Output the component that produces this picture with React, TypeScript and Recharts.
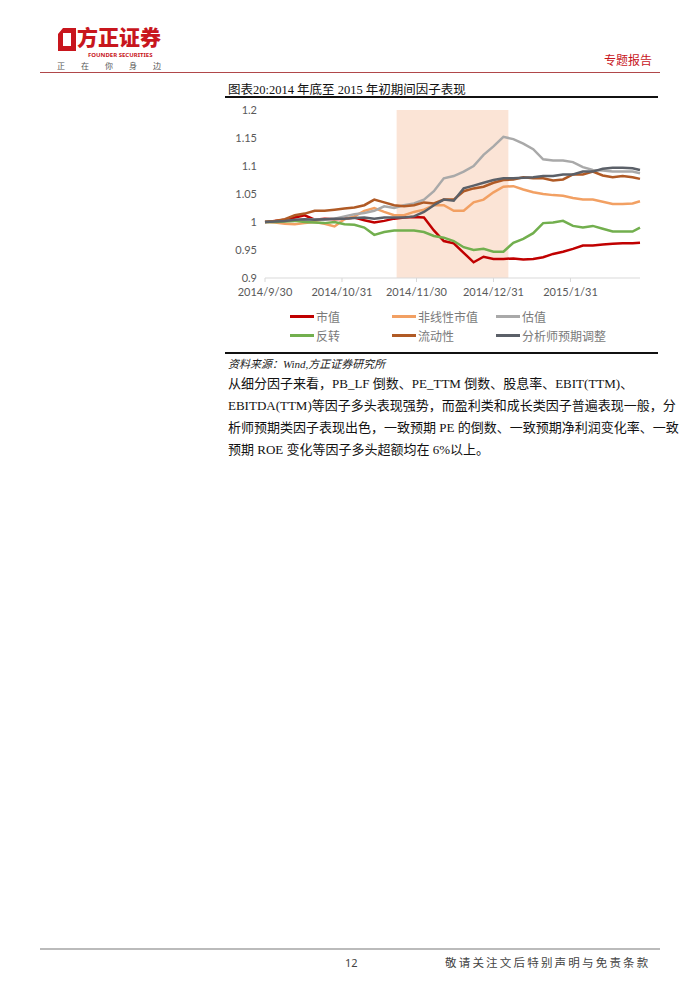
import React from "react";
import { LineChart, Line, XAxis, YAxis, ReferenceArea } from "recharts";

// Day offsets since 2014/9/30
const days = [0, 4, 8, 12, 16, 20, 24, 28, 32, 36, 40, 44, 48, 52, 56, 60, 64, 68, 72, 76, 80, 84, 88, 92, 96, 100, 104, 108, 112, 116, 120, 124, 128, 132, 136, 140, 144, 148, 151];

const marketCap = [1.0, 1.002, 1.004, 1.008, 1.012, 1.004, 1.006, 1.005, 1.006, 1.008, 1.003, 0.999, 1.002, 1.006, 1.008, 1.009, 1.008, 0.985, 0.966, 0.962, 0.945, 0.928, 0.938, 0.934, 0.934, 0.935, 0.933, 0.934, 0.937, 0.943, 0.947, 0.952, 0.958, 0.958, 0.96, 0.961, 0.962, 0.962, 0.963];
const nonlinearCap = [1.0, 0.999, 0.997, 0.996, 0.998, 1.0, 0.997, 0.992, 1.005, 1.01, 1.02, 1.025, 1.018, 1.012, 1.012, 1.018, 1.022, 1.03, 1.03, 1.02, 1.02, 1.035, 1.04, 1.053, 1.063, 1.064, 1.058, 1.053, 1.05, 1.048, 1.047, 1.043, 1.04, 1.04, 1.036, 1.032, 1.032, 1.033, 1.037];
const valuation = [1.0, 1.001, 1.002, 1.003, 1.004, 1.005, 1.004, 1.006, 1.01, 1.014, 1.016, 1.02, 1.028, 1.025, 1.03, 1.033, 1.04, 1.055, 1.078, 1.082, 1.09, 1.1, 1.12, 1.135, 1.152, 1.148, 1.14, 1.13, 1.112, 1.11, 1.11, 1.107, 1.098, 1.093, 1.092, 1.09, 1.09, 1.09, 1.087];
const reversal = [1.0, 1.0, 1.001, 1.002, 1.0, 0.999, 0.998, 1.0, 0.996, 0.995, 0.99, 0.977, 0.982, 0.985, 0.985, 0.985, 0.982, 0.975, 0.972, 0.966, 0.955, 0.95, 0.952, 0.947, 0.947, 0.963, 0.97, 0.98, 0.998, 0.999, 1.002, 0.993, 0.99, 0.993, 0.988, 0.983, 0.983, 0.983, 0.99];
const liquidity = [1.0, 1.002, 1.005, 1.012, 1.015, 1.02, 1.02, 1.022, 1.024, 1.026, 1.03, 1.04, 1.035, 1.03, 1.028, 1.03, 1.035, 1.033, 1.04, 1.04, 1.055, 1.06, 1.063, 1.07, 1.075, 1.076, 1.08, 1.078, 1.078, 1.074, 1.076, 1.085, 1.085, 1.09, 1.083, 1.08, 1.082, 1.08, 1.077];
const analyst = [1.0, 1.001, 1.002, 1.004, 1.005, 1.004, 1.005, 1.006, 1.006, 1.007, 1.008, 1.006, 1.008, 1.008, 1.008, 1.01, 1.018, 1.03, 1.04, 1.038, 1.06, 1.065, 1.07, 1.075, 1.078, 1.078, 1.079, 1.08, 1.082, 1.082, 1.085, 1.085, 1.09, 1.09, 1.095, 1.097, 1.097, 1.096, 1.093];

const seriesNames = ["市值", "非线性市值", "估值", "反转", "流动性", "分析师预期调整"];
const seriesColors = ["#C00000", "#F2A063", "#A9A9A9", "#72AF4E", "#B05A25", "#5B6068"];
const seriesValues = [marketCap, nonlinearCap, valuation, reversal, liquidity, analyst];

const xTicks = [0, 31, 61, 92, 123];
const xTickLabels = ["2014/9/30", "2014/10/31", "2014/11/30", "2014/12/31", "2015/1/31"];
const yTicks = [0.9, 0.95, 1, 1.05, 1.1, 1.15, 1.2];
const shadeStart = 53;
const shadeEnd = 98;

const data = days.map((d, i) => {
  const row: Record<string, number> = { d };
  seriesValues.forEach((arr, k) => {
    row["s" + k] = arr[i];
  });
  return row;
});

const RED = "#C8161D";

function Logo() {
  return (
    <div style={{ position: "absolute", left: 55, top: 26, width: 120, height: 48 }}>
      <svg width={20} height={24} style={{ position: "absolute", left: 2, top: 2 }}>
        <path d="M6 0 L19 0 L19 23 L1 23 L1 6 Z M6 5 L6 18 L14 18 L14 5 Z" fill={RED} fillRule="evenodd" />
      </svg>
      <div style={{ position: "absolute", left: 22, top: -1, fontFamily: "'Noto Sans CJK SC'", fontWeight: 900, fontSize: 21, color: RED, lineHeight: "22px", whiteSpace: "nowrap" }}>
        方正证券
      </div>
      <div style={{ position: "absolute", left: 33, top: 26, fontFamily: "'Noto Sans', sans-serif", fontWeight: 700, fontSize: 6, color: RED, whiteSpace: "nowrap", lineHeight: "7px" }}>
        FOUNDER SECURITIES
      </div>
      <div style={{ position: "absolute", left: 2, top: 35, fontFamily: "'Noto Sans CJK SC'", fontSize: 8, color: "#555", letterSpacing: 16, whiteSpace: "nowrap", lineHeight: "10px" }}>
        正在你身边
      </div>
    </div>
  );
}

function LegendBox() {
  const cols = [290, 392, 496];
  const rows = [316, 335];
  return (
    <>
      {seriesNames.map((name, i) => {
        const col = i % 3;
        const row = Math.floor(i / 3);
        return (
          <div key={name} style={{ position: "absolute", left: cols[col], top: rows[row] - 8, height: 16, display: "flex", alignItems: "center", whiteSpace: "nowrap" }}>
            <div style={{ width: 24, height: 3, background: seriesColors[i] }} />
            <span style={{ marginLeft: 2, fontFamily: "'Noto Sans CJK SC'", fontSize: 12, color: "#7a7a7a" }}>{name}</span>
          </div>
        );
      })}
    </>
  );
}

const bodyFont = "'Liberation Serif', 'Noto Sans CJK SC', serif";

export default function App() {
  return (
    <div style={{ position: "absolute", left: 0, top: 0, width: 700, height: 990, background: "#fff", overflow: "hidden" }}>
      <Logo />
      <div style={{ position: "absolute", left: 604, top: 51, fontFamily: "'Noto Sans CJK SC'", fontSize: 12, color: RED, whiteSpace: "nowrap" }}>专题报告</div>
      <div style={{ position: "absolute", left: 40, top: 72, width: 620, height: 1, background: "#b0474a" }} />

      <div style={{ position: "absolute", left: 228, top: 79, fontFamily: bodyFont, fontSize: 12.5, color: "#111", whiteSpace: "nowrap" }}>
        图表20:2014 年底至 2015 年初期间因子表现
      </div>
      <div style={{ position: "absolute", left: 225, top: 96, width: 433, height: 2, background: "#111" }} />

      <div style={{ position: "absolute", left: 225, top: 100 }}>
        <LineChart width={440} height={202} data={data} margin={{ top: 10, right: 25, bottom: 2, left: 0 }}>
          <ReferenceArea x1={shadeStart} x2={shadeEnd} y1={0.9} y2={1.2} fill="#FBE4D6" fillOpacity={1} stroke="none" ifOverflow="extendDomain" />
          <XAxis
            dataKey="d"
            type="number"
            domain={[0, 151]}
            ticks={xTicks}
            tickFormatter={(v: number) => xTickLabels[xTicks.indexOf(v)] ?? ""}
            height={22}
            axisLine={{ stroke: "#d9d9d9" }}
            tickLine={{ stroke: "#d9d9d9" }}
            tickSize={4}
            tickMargin={6}
            tick={{ fill: "#595959", fontSize: 11, fontFamily: "Lato, 'Open Sans', sans-serif" }}
            interval={0}
          />
          <YAxis
            type="number"
            domain={[0.9, 1.2]}
            ticks={yTicks}
            width={40}
            axisLine={false}
            tickLine={false}
            tick={{ fill: "#595959", fontSize: 11, fontFamily: "Lato, 'Open Sans', sans-serif" }}
            interval={0}
          />
          {seriesNames.map((name, k) => (
            <Line key={name} type="linear" dataKey={"s" + k} name={name} stroke={seriesColors[k]} strokeWidth={2.5} dot={false} isAnimationActive={false} />
          ))}
        </LineChart>
      </div>
      <LegendBox />
      <div style={{ position: "absolute", left: 225, top: 352, width: 433, height: 2, background: "#111" }} />

      <div style={{ position: "absolute", left: 228, top: 355, fontFamily: bodyFont, fontStyle: "italic", fontSize: 11, color: "#222", whiteSpace: "nowrap" }}>
        资料来源：Wind,方正证券研究所
      </div>

      <div style={{ position: "absolute", left: 228, top: 373, width: 427, fontFamily: bodyFont, fontSize: 13, color: "#111", lineHeight: "22px" }}>
        <div style={{ whiteSpace: "nowrap" }}>从细分因子来看，PB_LF 倒数、PE_TTM 倒数、股息率、EBIT(TTM)、</div>
        <div style={{ whiteSpace: "nowrap", textAlign: "justify", textAlignLast: "justify" }}>EBITDA(TTM)等因子多头表现强势，而盈利类和成长类因子普遍表现一般，分</div>
        <div style={{ whiteSpace: "nowrap", textAlign: "justify", textAlignLast: "justify" }}>析师预期类因子表现出色，一致预期 PE 的倒数、一致预期净利润变化率、一致</div>
        <div style={{ whiteSpace: "nowrap" }}>预期 ROE 变化等因子多头超额均在 6%以上。</div>
      </div>

      <div style={{ position: "absolute", left: 40, top: 948, width: 620, height: 2, background: "#bbb" }} />
      <div style={{ position: "absolute", left: 345, top: 955, fontFamily: "'Noto Sans', sans-serif", fontSize: 11, color: "#444" }}>12</div>
      <div style={{ position: "absolute", left: 445, top: 954, fontFamily: "'Noto Sans CJK SC'", fontSize: 11.5, color: "#444", letterSpacing: 2.2, whiteSpace: "nowrap" }}>
        敬请关注文后特别声明与免责条款
      </div>
    </div>
  );
}
